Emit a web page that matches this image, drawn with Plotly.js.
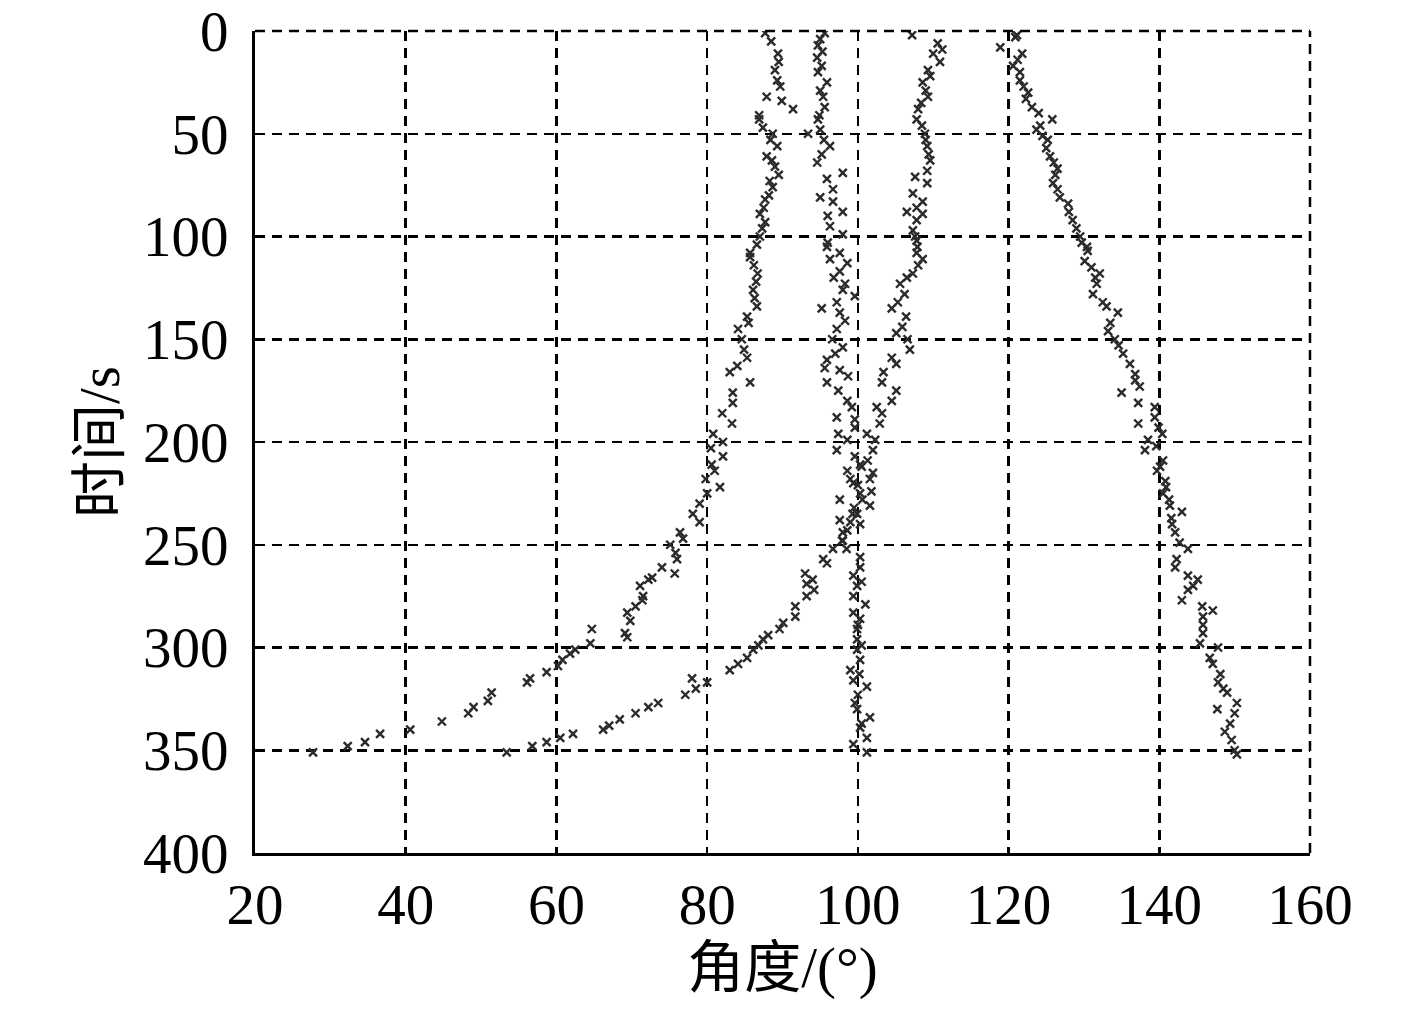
<!DOCTYPE html>
<html>
<head>
<meta charset="utf-8">
<script src="https://cdn.plot.ly/plotly-3.0.1.min.js"></script>
<style>
  html, body { margin: 0; padding: 0; background: #fff; }
  #chart { width: 1417px; height: 1011px; }
</style>
</head>
<body>
<div id="chart"></div>
<script>
// track 1: left branch (t in s, angle in deg)
const t1 = [1, 5, 11, 15, 19, 24, 27, 32, 34, 38, 41, 43, 47, 50, 53, 56, 61, 63, 66, 70,
  73, 76, 80, 82, 86, 89, 93, 96, 100, 104, 108, 110, 114, 118, 122, 126, 130, 134, 139, 142,
  145, 150, 155, 159, 163, 166, 171, 176, 181, 186, 191, 196, 200, 203, 207, 211, 214, 218, 222, 225,
  230, 235, 239, 244, 247, 250, 254, 257, 261, 264, 266, 267, 270, 275, 277, 280, 283, 287, 291, 293,
  295, 298, 301, 303, 306, 309, 312, 315, 317, 322, 326, 329, 332, 336, 340, 342, 346, 348, 351];
const a1 = [87.7, 88.5, 89.4, 89.5, 89.0, 89.3, 89.7, 87.9, 89.9, 91.4, 86.9, 86.9, 87.4, 88.7, 88.4, 89.3, 87.9, 88.6, 89.0, 89.5,
  88.3, 88.7, 88.2, 87.7, 87.5, 87.0, 87.7, 87.3, 87.0, 86.6, 85.7, 85.7, 86.2, 86.7, 86.5, 86.1, 86.3, 86.6, 85.3, 85.5,
  84.1, 84.6, 84.9, 85.3, 84.0, 83.0, 85.7, 83.4, 83.4, 82.0, 83.3, 80.8, 82.1, 80.5, 82.1, 80.6, 81.0, 79.8, 81.7, 80.0,
  79.0, 78.1, 79.0, 76.4, 76.8, 75.1, 75.8, 76.0, 74.0, 75.7, 72.7, 72.2, 71.1, 71.5, 71.4, 70.5, 69.4, 69.8, 64.7, 69.1,
  69.4, 64.5, 62.5, 61.8, 60.8, 60.2, 58.7, 56.5, 56.1, 51.4, 50.9, 49.0, 48.3, 44.8, 40.6, 36.6, 34.6, 32.3, 27.7];

// track 2: near-vertical branch around 96-101 deg
const t2 = [1, 4, 7, 10, 13, 17, 20, 25, 29, 32, 37, 41, 43, 48, 50, 53, 56, 60, 64, 69,
  72, 77, 81, 83, 88, 90, 95, 99, 103, 105, 108, 111, 113, 117, 120, 123, 126, 129, 132, 135,
  137, 141, 145, 150, 154, 157, 160, 164, 165, 168, 171, 175, 180, 183, 188, 189, 193, 196, 199, 204,
  207, 211, 214, 218, 220, 225, 228, 232, 235, 238, 240, 244, 248, 252, 256, 261, 265, 268, 270, 275,
  279, 283, 286, 289, 291, 296, 299, 301, 306, 311, 313, 316, 319, 323, 327, 330, 334, 337, 339, 344,
  347, 351];
const a2 = [95.6, 95.0, 94.7, 95.3, 94.6, 95.2, 94.7, 95.9, 95.0, 95.4, 95.6, 94.9, 94.7, 95.0, 93.4, 95.5, 96.3, 95.2, 94.6, 98.0,
  95.9, 96.7, 95.0, 96.7, 98.0, 96.0, 96.3, 98.0, 96.0, 95.9, 97.6, 96.3, 98.6, 97.6, 96.8, 98.3, 98.0, 99.6, 97.2, 95.2,
  97.6, 98.3, 97.2, 96.6, 98.0, 97.0, 95.9, 95.6, 97.6, 98.7, 95.9, 97.4, 98.6, 99.2, 97.2, 99.6, 99.6, 97.4, 98.6, 97.2,
  99.6, 100.3, 98.6, 99.0, 99.4, 100.3, 97.6, 99.5, 99.9, 97.6, 100.3, 98.0, 97.9, 98.5, 100.3, 100.3, 99.4, 100.5, 99.9, 99.4,
  101.0, 99.4, 100.3, 100.0, 99.9, 99.9, 100.5, 99.9, 100.3, 99.0, 100.2, 99.4, 101.2, 100.0, 99.6, 99.9, 101.6, 100.5, 100.3, 101.2,
  99.4, 101.2];

// track 3: starts near 110 deg, bends left after 250 s
const t3 = [2, 6, 9, 11, 15, 19, 22, 25, 29, 32, 35, 38, 43, 46, 50, 53, 56, 60, 63, 68,
  71, 74, 79, 83, 86, 88, 89, 92, 97, 100, 102, 105, 108, 111, 114, 118, 120, 123, 128, 132,
  135, 139, 144, 147, 150, 155, 159, 162, 166, 171, 175, 180, 183, 186, 191, 196, 199, 204, 209, 212,
  215, 218, 221, 224, 228, 231, 235, 239, 243, 248, 252, 257, 259, 264, 267, 269, 272, 275, 280, 285,
  288, 291, 294, 296, 299, 301, 305, 308, 311, 315, 317, 320, 323, 327, 329, 332, 335, 338, 340, 342,
  344, 346, 348, 351];
const a3 = [107.2, 110.6, 111.2, 110.0, 110.9, 109.3, 109.6, 108.6, 109.0, 109.3, 108.4, 108.0, 107.8, 108.5, 108.9, 109.0, 109.2, 109.4, 109.6, 109.2,
  107.6, 109.2, 107.3, 108.6, 107.8, 106.5, 108.6, 107.8, 107.3, 107.6, 107.8, 107.9, 107.8, 108.6, 108.0, 107.3, 106.5, 105.6, 106.2, 105.3,
  104.5, 106.4, 105.9, 105.1, 106.6, 106.9, 104.5, 105.1, 103.4, 103.2, 105.1, 104.5, 102.5, 103.2, 102.9, 101.2, 102.3, 102.0, 101.3, 100.5,
  102.0, 101.6, 100.0, 101.8, 100.6, 101.6, 99.3, 99.0, 98.6, 98.0, 96.7, 95.4, 95.9, 93.0, 94.0, 93.2, 94.2, 93.2, 91.7, 91.7,
  90.1, 89.6, 88.1, 87.4, 86.8, 86.1, 85.3, 84.1, 83.0, 78.0, 80.0, 78.5, 77.1, 73.5, 72.2, 70.5, 68.4, 67.0, 66.2, 62.2,
  60.5, 58.7, 56.8, 53.4];

// track 4: right branch, 121 -> 150 deg
const t4 = [2, 3, 8, 11, 14, 17, 20, 24, 27, 30, 33, 37, 40, 43, 46, 48, 51, 53, 57, 61,
  64, 67, 70, 74, 77, 81, 84, 88, 92, 96, 100, 103, 105, 107, 112, 115, 118, 120, 123, 128,
  132, 134, 137, 142, 146, 150, 153, 157, 162, 167, 170, 173, 176, 181, 183, 188, 191, 193, 196, 199,
  202, 204, 209, 212, 214, 219, 222, 225, 228, 231, 234, 237, 240, 244, 249, 252, 257, 261, 265, 267,
  270, 272, 277, 280, 282, 285, 289, 293, 298, 300, 305, 308, 313, 317, 320, 322, 327, 330, 332, 337,
  341, 345, 350, 352];
const a4 = [121.1, 120.9, 118.9, 121.8, 121.2, 120.6, 121.5, 121.5, 122.0, 122.6, 122.3, 123.1, 124.0, 125.8, 124.2, 123.7, 124.5, 125.2, 125.0, 125.5,
  126.0, 126.5, 126.2, 125.9, 126.5, 126.8, 127.9, 128.0, 128.5, 129.0, 129.5, 129.7, 130.4, 130.5, 130.1, 131.0, 132.1, 131.5, 131.7, 131.2,
  132.5, 133.0, 134.5, 133.5, 133.2, 134.1, 134.6, 135.2, 136.1, 136.8, 136.8, 137.4, 135.0, 137.2, 139.4, 139.4, 137.2, 139.9, 140.4, 138.5,
  139.6, 138.1, 140.5, 140.1, 139.7, 140.8, 140.9, 140.5, 141.3, 141.4, 143.0, 141.6, 141.7, 142.1, 142.7, 143.8, 142.3, 142.1, 143.8, 145.1,
  144.5, 143.8, 143.0, 145.7, 147.1, 145.8, 145.8, 145.8, 145.4, 147.8, 146.7, 147.1, 148.1, 147.8, 148.5, 149.0, 150.3, 147.7, 150.0, 149.4,
  148.7, 149.6, 150.0, 150.3];

const xTicks = [20, 40, 60, 80, 100, 120, 140, 160];
const yTicks = [0, 50, 100, 150, 200, 250, 300, 350, 400];

const FONT = 'Liberation Serif, Times New Roman, Noto Sans CJK SC, serif';
const DASH = '10px,7px';

function track(x, y) {
  return {
    x: x, y: y,
    type: 'scatter',
    mode: 'markers',
    marker: {
      symbol: 'x-thin',
      size: 8,
      color: '#2b2b2b',
      line: { width: 2.4, color: '#2b2b2b' }
    },
    hoverinfo: 'x+y',
    showlegend: false
  };
}

const data = [track(a1, t1), track(a2, t2), track(a3, t3), track(a4, t4)];

const axisCommon = {
  showgrid: true,
  gridcolor: '#000',
  gridwidth: 2.5,
  griddash: DASH,
  zeroline: false,
  showline: true,
  linecolor: '#000',
  linewidth: 3,
  ticks: '',
  ticklabeloverflow: 'allow',
  tickfont: { family: FONT, size: 57, color: '#000' }
};

const layout = {
  width: 1417,
  height: 1011,
  margin: { l: 255, r: 107, t: 31, b: 158 },
  paper_bgcolor: '#fff',
  plot_bgcolor: '#fff',
  font: { family: FONT, color: '#000' },
  xaxis: Object.assign({}, axisCommon, {
    range: [20, 160],
    tickvals: xTicks,
    ticktext: xTicks.map(String),
    ticklabelstandoff: 0,
    title: { text: '角度/(°)', font: { family: FONT, size: 57, color: '#000' }, standoff: 8 }
  }),
  yaxis: Object.assign({}, axisCommon, {
    range: [400, 0],
    tickvals: yTicks,
    ticktext: yTicks.map(String),
    ticklabelstandoff: 12,
    title: { text: '时间/s', font: { family: FONT, size: 57, color: '#000' }, standoff: 6 }
  }),
  // dashed border on the top and right edges of the plot area
  shapes: [
    { type: 'line', xref: 'paper', yref: 'paper', x0: 0, x1: 1, y0: 1, y1: 1,
      line: { color: '#000', width: 2.5, dash: DASH } },
    { type: 'line', xref: 'paper', yref: 'paper', x0: 1, x1: 1, y0: 0, y1: 1,
      line: { color: '#000', width: 2.5, dash: DASH } }
  ]
};

Plotly.newPlot('chart', data, layout, { displayModeBar: false, staticPlot: true });
</script>
</body>
</html>
